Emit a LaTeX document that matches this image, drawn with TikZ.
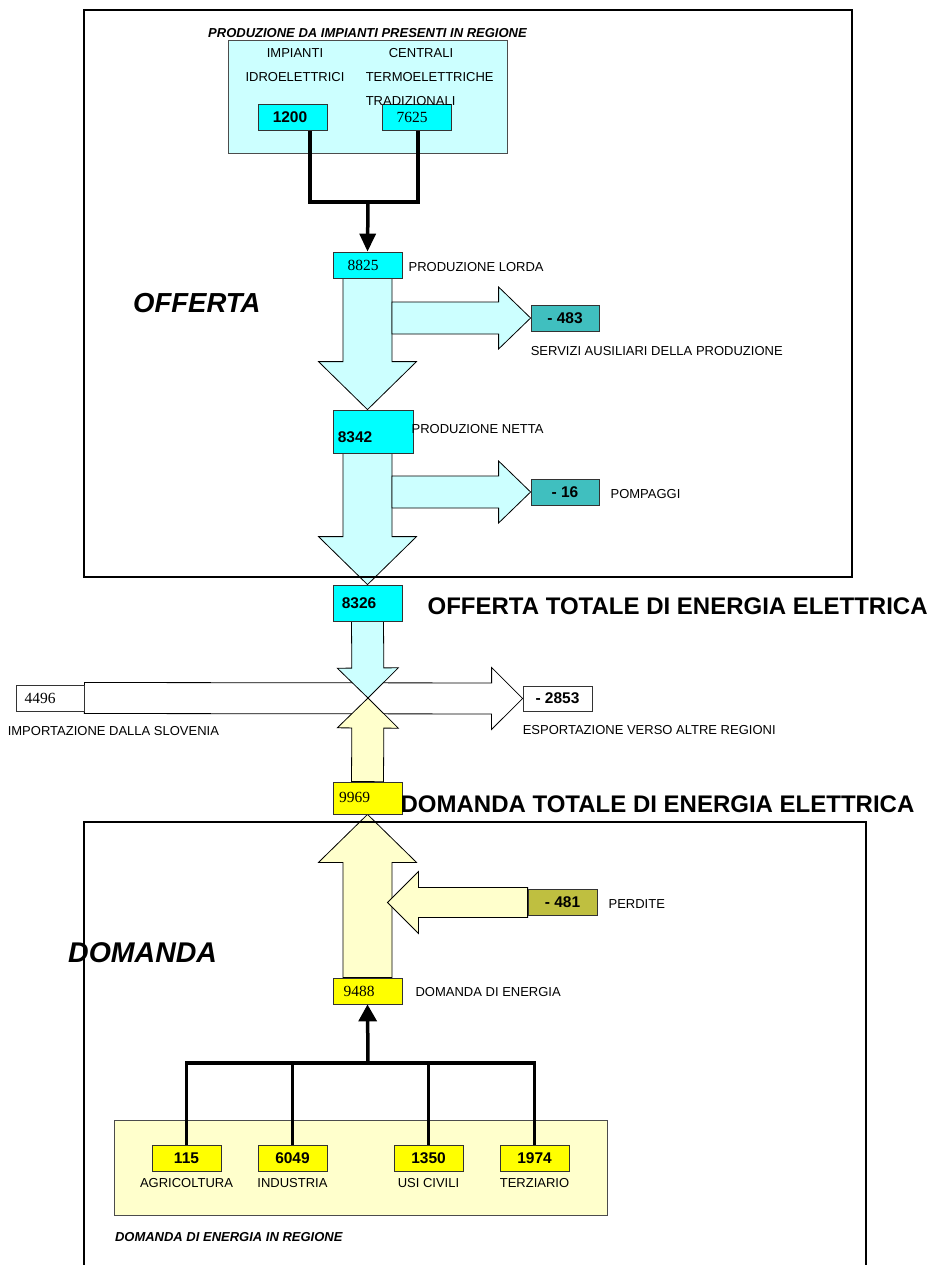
\documentclass[tikz,border=0pt]{standalone}
\usepackage{fontspec}
\setmainfont{Liberation Sans}
\newfontfamily\tms{Liberation Serif}
\usetikzlibrary{arrows.meta,calc,positioning,backgrounds}

\definecolor{lcyan}{HTML}{CCFFFF}
\definecolor{cyanbox}{HTML}{00FFFF}
\definecolor{tealbox}{HTML}{40BFBF}
\definecolor{olivebox}{HTML}{BFBF40}
\definecolor{lyellow}{HTML}{FFFFCC}
\definecolor{ybox}{HTML}{FFFF00}

\tikzset{
  lbl/.style={inner sep=0pt, font=\fontsize{13}{15}\selectfont},
  bigtxt/.style={inner sep=0pt, anchor=west, font=\fontsize{24}{28}\selectfont\bfseries},
  numbox/.style={draw=black!80, line width=0.8pt, inner sep=0pt, minimum width=69pt, minimum height=26pt, font=\fontsize{15.5}{18}\selectfont\bfseries},
  tmsbox/.style={numbox, font=\fontsize{15.5}{18}\selectfont\tms},
  bus/.style={line width=3.5pt},
  flow/.style={draw=black, line width=0.8pt},
  fat/.style n args={3}{to path={
    let \p1=(\tikztostart), \p2=(\tikztotarget),
        \n1={atan2(\y2-\y1,\x2-\x1)}, \n2={veclen(\x2-\x1,\y2-\y1)} in
    [shift={(\p1)}, rotate=\n1]
    (0pt,-#1pt) -- ({\n2-#3pt},-#1pt) -- ({\n2-#3pt},-#2pt) -- (\n2,0pt)
    -- ({\n2-#3pt},#2pt) -- ({\n2-#3pt},#1pt) -- (0pt,#1pt) -- cycle
  }}
}
\newcommand{\padr}[1]{\rule{#1}{0pt}}

\begin{document}
\begin{tikzpicture}[x=1pt,y=-1pt]
  \useasboundingbox (0,0) rectangle (930,1265);

  \draw[line width=2pt] (84,10) rectangle (852,577);
  \draw[line width=2pt] (84,1267) |- (866,822) -- (866,1267);

  \node[draw=black!70, fill=lcyan, inner sep=0pt, minimum width=279pt, minimum height=113pt] (prod) at (367.5,96.5) {};
  \node[inner sep=0pt, anchor=south, font=\fontsize{13}{15}\selectfont\bfseries\itshape] (prodtitle) at ([yshift=2]prod.north) {PRODUZIONE DA IMPIANTI PRESENTI IN REGIONE};

  \node[numbox, fill=cyanbox] (idro) at (292.5,117.5) {1200\padr{5pt}};
  \node[tmsbox, fill=cyanbox] (termo) at (416.5,117.5) {7625\padr{9pt}};

  \node[lbl] (impi) at ([xshift=2.5, yshift=51]idro.north) {IMPIANTI};
  \node[lbl] (idrotxt) at ([xshift=2.5, yshift=27]idro.north) {IDROELETTRICI};
  \node[lbl] (cent) at ([xshift=4.5, yshift=51]termo.north) {CENTRALI};
  \node[lbl, anchor=west] (termotxt) at ([xshift=-16, yshift=27]termo.north west) {TERMOELETTRICHE};
  \node[lbl, anchor=west] (trad) at ([xshift=-16, yshift=3]termo.north west) {TRADIZIONALI};

  \node[tmsbox, fill=cyanbox] (lorda) at (367.5,265) {8825\padr{9pt}};
  \node[numbox, fill=tealbox, minimum width=68pt] (ausil) at (565,318) {- 483};
  \node[numbox, fill=cyanbox, minimum width=80pt, minimum height=43pt] (netta) at (373,431.5) {\raisebox{-6pt}[\height][\depth]{8342}\padr{36pt}};
  \node[numbox, fill=tealbox, minimum width=68pt] (pomp) at (565,492) {- 16};
  \node[numbox, fill=cyanbox, minimum height=36pt] (offtot) at (367.5,603) {8326\padr{17pt}};

  \node[tmsbox, fill=white, minimum width=68pt] (imp) at (50,698) {4496\padr{20pt}};
  \node[numbox, fill=white, minimum height=25pt] (esp) at (557.5,698.5) {- 2853};
  \coordinate (cross) at (368,698);
  \node[tmsbox, fill=ybox, minimum height=32pt] (domtot) at (367.5,798) {\raisebox{1pt}[\height][\depth]{9969}\padr{26pt}};

  \node[numbox, fill=olivebox] (perd) at (562.5,902.5) {- 481};
  \node[tmsbox, fill=ybox] (dom) at (367.5,991) {9488\padr{17pt}};

  \node[draw=black!70, fill=lyellow, inner sep=0pt, minimum width=493pt, minimum height=95pt] (region) at (360.5,1167.5) {};
  \node[numbox, fill=ybox] (agri) at (186.5,1158) {115};
  \node[numbox, fill=ybox] (ind) at (292.5,1158) {6049};
  \node[numbox, fill=ybox] (civ) at (428.5,1158) {1350};
  \node[numbox, fill=ybox] (terz) at (534.5,1158) {1974};

  \begin{scope}[on background layer]
    \draw[flow, fill=lcyan, fat={24.5}{49}{48}] (lorda.south) to (lorda.south |- netta.north);
    \draw[flow, fill=lcyan, fat={16}{31}{32}] ([xshift=24.5]lorda.south |- ausil.west) to (ausil.west);
    \draw[flow, fill=lcyan, fat={24.5}{49}{48}] (lorda.south |- netta.south) to (lorda.south |- offtot.north);
    \draw[flow, fill=lcyan, fat={16}{31}{32}] ([xshift=24.5]lorda.south |- pomp.west) to (pomp.west);
    \draw[flow, fill=white, fat={15.5}{31}{31}] (imp.east) to (esp.west);
    \draw[flow, fill=lcyan, fat={16}{30.5}{30}] (offtot.south) to (cross);
    \draw[flow, fill=lyellow, fat={16}{30.5}{30}] (domtot.north) to (cross);
    \draw[flow, fill=lyellow, fat={24.5}{49}{48}] (dom.north) to (domtot.south);
    \draw[flow, fill=lyellow, fat={15}{31}{31}] (perd.west) to ([xshift=20]dom.north |- perd.west);
  \end{scope}

  \coordinate (topjoin) at (368,202);
  \draw[bus] ([xshift=17.5]idro.south) |- (topjoin) -| ([xshift=1.5]termo.south);
  \draw[bus, -{Triangle[width=16pt,length=18pt]}] (topjoin) -- (lorda.north);

  \coordinate (botjoin) at (368,1063);
  \draw[bus] (agri.north) |- (botjoin) -| (terz.north);
  \draw[bus] (ind.north) -- (ind.north |- botjoin);
  \draw[bus] (civ.north) -- (civ.north |- botjoin);
  \draw[bus, -{Triangle[width=18pt,length=17pt]}] (botjoin) -- (dom.south);

  \node[inner sep=0pt, anchor=west, font=\fontsize{27.5}{32}\selectfont\bfseries\itshape] (offerta) at (133,303) {OFFERTA};
  \node[inner sep=0pt, anchor=west, font=\fontsize{28.5}{33}\selectfont\bfseries\itshape] (domanda) at (68,953) {DOMANDA};

  \node[lbl, anchor=west] (lordatxt) at ([xshift=6, yshift=-2]lorda.east) {PRODUZIONE LORDA};
  \node[lbl, anchor=west] (ausiltxt) at ([yshift=-20]ausil.south west) {SERVIZI AUSILIARI DELLA PRODUZIONE};
  \node[lbl, anchor=west] (nettatxt) at ([xshift=-2, yshift=2.5]netta.east) {PRODUZIONE NETTA};
  \node[lbl, anchor=west] (pomptxt) at ([xshift=11, yshift=-2]pomp.east) {POMPAGGI};
  \node[bigtxt] (offtottxt) at ([xshift=25, yshift=-3.5]offtot.east) {OFFERTA TOTALE DI ENERGIA ELETTRICA};
  \node[lbl, anchor=west] (imptxt) at ([xshift=-8, yshift=-20]imp.south west) {IMPORTAZIONE DALLA SLOVENIA};
  \node[lbl, anchor=west] (esptxt) at ([yshift=-19]esp.south west) {ESPORTAZIONE VERSO ALTRE REGIONI};
  \node[bigtxt] (domtottxt) at ([xshift=-2, yshift=-6]domtot.east) {DOMANDA TOTALE DI ENERGIA ELETTRICA};
  \node[lbl, anchor=west] (perdtxt) at ([xshift=11, yshift=-1.5]perd.east) {PERDITE};
  \node[lbl, anchor=west] (domtxt) at ([xshift=13, yshift=-1]dom.east) {DOMANDA DI ENERGIA};
  \node[lbl, below=7pt of agri] (agritxt) {AGRICOLTURA};
  \node[lbl, below=7pt of ind] (indtxt) {INDUSTRIA};
  \node[lbl, below=7pt of civ] (civtxt) {USI CIVILI};
  \node[lbl, below=7pt of terz] (terztxt) {TERZIARIO};
  \node[inner sep=0pt, anchor=west, font=\fontsize{13}{15}\selectfont\bfseries\itshape] (regiontxt) at ([xshift=1, yshift=-22]region.south west) {DOMANDA DI ENERGIA IN REGIONE};
\end{tikzpicture}
\end{document}
